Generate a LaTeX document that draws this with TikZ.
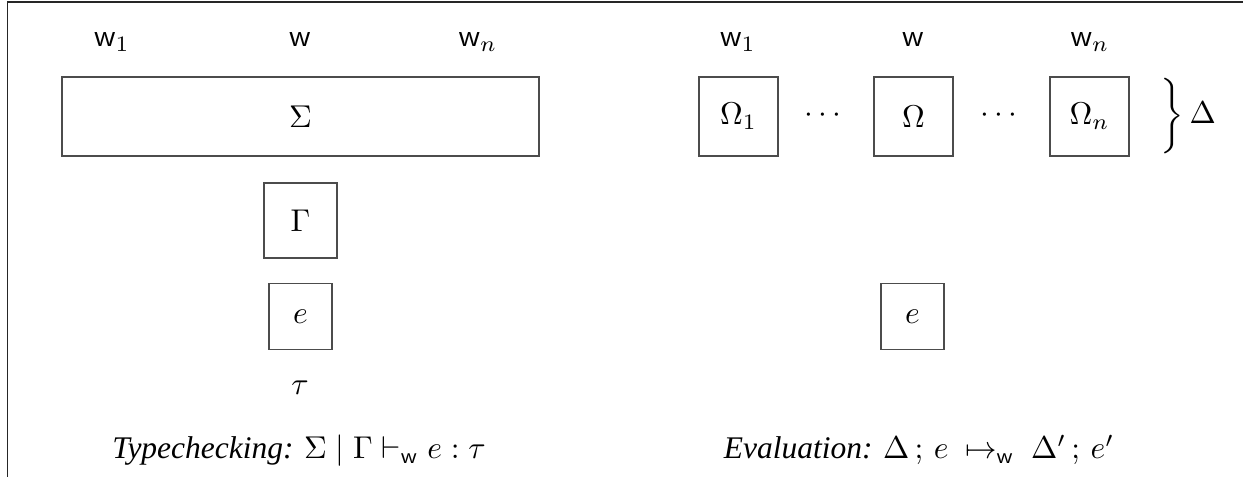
\documentclass[tikz,border=0pt]{standalone}
\usepackage[no-math]{fontspec}
\setmainfont{Liberation Serif}
\begin{document}
\begin{tikzpicture}[x=0.3175pt,y=-0.3175pt,
  frameline/.style={draw=black!85,line width=0.6pt},
  boxnode/.style={draw=black!70,line width=0.45pt,inner sep=0pt,anchor=center},
  lbl/.style={inner sep=0pt,anchor=center},
  wlbl/.style={inner sep=0pt,anchor=base}]
\useasboundingbox (0,0) rectangle (1243,477);
\coordinate (fTL) at (7.5,2);
\coordinate (fTR) at (1243,2);
\coordinate (fBL) at (7.5,477);
\draw[frameline] (fTR) -- (fTL) -- (fBL);
% left part
\node[wlbl] (lw1) at (112,47) {$\mathsf{w}_1$};
\node[wlbl] (lw)  at (300,47) {$\mathsf{w}$};
\node[wlbl] (lwn) at (478,47) {$\mathsf{w}_n$};
\node[boxnode,minimum width=151.4pt,minimum height=25.1pt] (sigma) at (300.5,116.5) {$\Sigma$};
\node[boxnode,minimum width=23.2pt,minimum height=23.8pt] (gamma) at (300.5,220.5) {$\Gamma$};
\node[boxnode,minimum width=20.0pt,minimum height=21.0pt] (el) at (300.5,316.5) {$e$};
\node[lbl] (tau) at (300,388) {$\tau$};
\node[wlbl] (capl) at (299,459) {\textit{Typechecking:} $\Sigma \mid \Gamma \vdash_{\mathsf{w}} e : \tau$};
% right part
\node[wlbl] (rw1) at (738,47) {$\mathsf{w}_1$};
\node[wlbl] (rw)  at (913,47) {$\mathsf{w}$};
\node[wlbl] (rwn) at (1090,47) {$\mathsf{w}_n$};
\node[boxnode,minimum size=25.1pt] (om1) at (738.5,116.5) {$\Omega_1$};
\node[lbl] (d1) at (823,116) {$\cdots$};
\node[boxnode,minimum size=25.1pt] (om) at (913.5,116.5) {$\Omega$};
\node[lbl] (d2) at (999,116) {$\cdots$};
\node[boxnode,minimum size=25.1pt] (omn) at (1089.5,116.5) {$\Omega_n$};
\node[inner sep=0pt,anchor=base west] (delta) at (1160,124) {$\bigg\}\,\Delta$};
\node[boxnode,minimum width=20.0pt,minimum height=21.0pt] (er) at (912.5,316.5) {$e$};
\node[wlbl] (capr) at (919,459) {\textit{Evaluation:} $\Delta\,;\,e\ \mapsto_{\mathsf{w}}\ \Delta'\,;\,e'$};
\end{tikzpicture}
\end{document}
